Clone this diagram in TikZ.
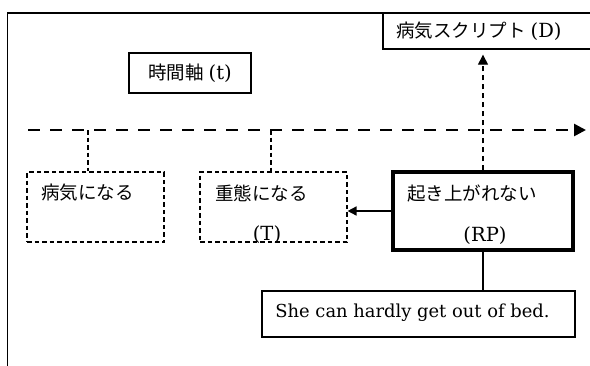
\documentclass[tikz,border=0pt]{standalone}
\usepackage{fontspec}
\newfontfamily\jp{Noto Sans CJK JP}
\newfontfamily\lat{DejaVu Serif}
\usetikzlibrary{arrows.meta}
\newcommand\latlab[1]{{\fontsize{19.5}{22}\selectfont\lat #1}}
\begin{document}
\begin{tikzpicture}[x=1pt,y=-1pt,
  box/.style={draw, line width=1.3pt, rectangle, inner sep=0pt},
  thickbox/.style={draw, line width=3.2pt, rectangle, inner sep=0pt},
  dbox/.style={draw, line width=1.1pt, dash pattern=on 4.5pt off 3pt, rectangle, inner sep=0pt},
  jtxt/.style={inner sep=0pt, font=\fontsize{18.5}{22}\selectfont\jp},
  ltxt/.style={inner sep=0pt, font=\fontsize{19.5}{22}\selectfont\lat},
  stxt/.style={inner sep=0pt, font=\fontsize{17.9}{22}\selectfont\lat},
  dline/.style={line width=1.1pt, dash pattern=on 4.5pt off 3pt},
  axisline/.style={line width=2.6pt, dash pattern=on 12pt off 10pt, -{Triangle[length=12pt,width=12pt]}},
  solid arrow/.style={line width=1.5pt, -{Triangle[length=9pt,width=9pt]}},
]
\clip (0,0) rectangle (590,365);
\fill[white] (0,0) rectangle (590,365);
% outer frame
\draw[line width=1.6pt] (7.5,400) -- (7.5,13) -- (600,13);
% script box
\node[box, minimum width=214pt, minimum height=36pt] (D) at (490,31) {};
\node[jtxt, anchor=west] (Dt) at (396,31) {病気スクリプト\hspace{5pt}\latlab{(D)}};
% time axis label
\node[box, minimum width=122pt, minimum height=40pt] (T) at (190,73) {};
\node[jtxt] (Tt) at (190,73) {時間軸\hspace{5pt}\latlab{(t)}};
% axis
\coordinate (ax0) at (28,130);
\coordinate (ax1) at (586,130);
\draw[axisline] (ax0) -- (ax1);
% event boxes
\node[dbox, minimum width=137pt, minimum height=70pt] (b1) at (95.5,207) {};
\node[jtxt, anchor=west] (b1t) at (41,193) {病気になる};
\node[dbox, minimum width=147pt, minimum height=70pt] (b2) at (273.5,207) {};
\node[jtxt, anchor=west] (b2t) at (215,193) {重態になる};
\node[ltxt] (b2l) at (267,235) {(T)};
\node[thickbox, minimum width=180pt, minimum height=78pt] (RP) at (483,211) {};
\node[jtxt, anchor=west] (RPt) at (407,193) {起き上がれない};
\node[ltxt] (RPl) at (485,236) {(RP)};
\node[box, minimum width=313pt, minimum height=46pt] (S) at (418.5,314) {};
\node[stxt] (St) at (412.5,313) {She can hardly get out of bed.};
% connectors
\coordinate (a1) at (88,130);
\coordinate (a2) at (271,130);
\draw[dline] (a1) -- (a1 |- b1.north);
\draw[dline] (a2) -- (a2 |- b2.north);
\draw[line width=1.1pt, dash pattern=on 5pt off 4pt, -{Triangle[length=10pt,width=10pt]}, shorten >=5pt] (RP.north) -- (RP.north |- D.south);
\draw[solid arrow] (RP.west) -- (RP.west -| b2.east);
\draw[line width=1.3pt] (RP.south) -- (RP.south |- S.north);
\end{tikzpicture}
\end{document}
